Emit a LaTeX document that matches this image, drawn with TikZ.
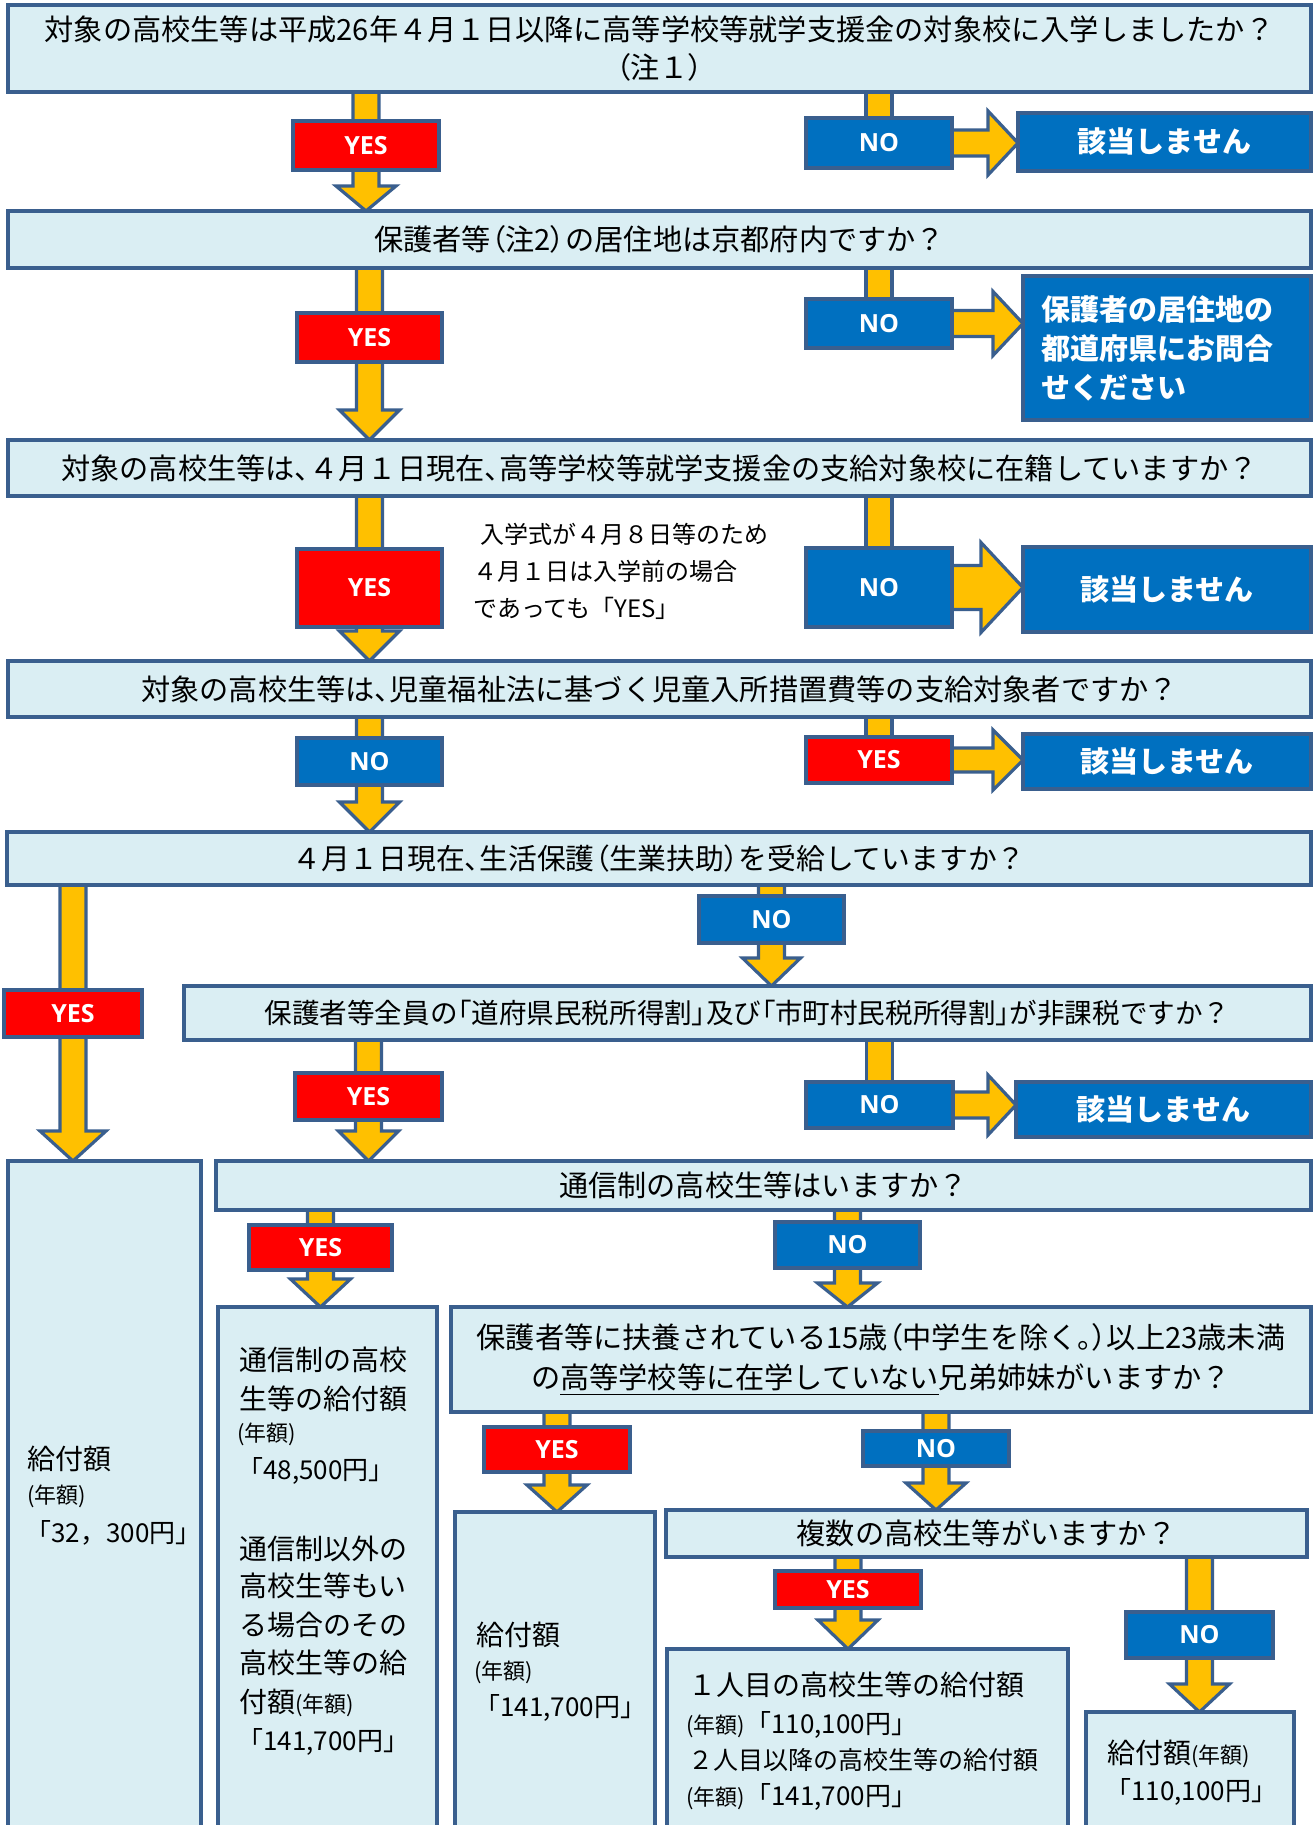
\documentclass[tikz,border=0pt]{standalone}
\usepackage{fontspec}
\setmainfont{Noto Sans CJK JP}
\newfontfamily\jpp{Noto Sans CJK JP}[RawFeature=+palt]
\newfontfamily\ynfont{Open Sans}
\usetikzlibrary{calc}
\pgfdeclarelayer{bg}
\pgfsetlayers{bg,main}
\definecolor{qf}{HTML}{DAEEF3}
\definecolor{bd}{HTML}{3A5F8E}
\definecolor{rd}{HTML}{FF0000}
\definecolor{bl}{HTML}{0070C0}
\definecolor{og}{HTML}{FFC000}
\newcommand\pp[1]{{\jpp#1}}
\newcommand\szq{\fontsize{14.6}{19}\selectfont}
\newcommand\szr{\fontsize{14}{19}\selectfont}
\newcommand\szs{\fontsize{11}{13}\selectfont}
\newcommand\sza{\fontsize{13}{16}\selectfont}
\tikzset{
  qbox/.style={draw=bd, fill=qf, line width=2pt, inner sep=0pt, outer sep=0pt, align=center, font=\szq},
  ybox/.style={draw=bd, fill=rd, line width=2pt, inner sep=0pt, outer sep=0pt, text=white, font=\ynfont\bfseries\fontsize{12.5}{14}\selectfont},
  nbox/.style={ybox, fill=bl},
  tbox/.style={draw=bd, fill=bl, line width=2pt, inner sep=0pt, outer sep=0pt, text=white, font=\bfseries\fontsize{14.5}{19.5}\selectfont},
  arr/.style={draw=bd, fill=og, line width=1.6pt, line join=miter},
  rtext/.style={anchor=west, inner sep=0pt, font=\szr},
  note/.style={anchor=west, inner sep=0pt, align=left, font=\fontsize{12}{18.5}\selectfont},
}
\newcommand\mkbox[7]{%
  \pgfmathsetmacro\bxw{(#5-#3)*0.5}%
  \pgfmathsetmacro\bxh{(#6-#4)*0.5}%
  \node[#2, minimum width=\bxw pt, minimum height=\bxh pt] (#1) at ({(#3+#5)/2},{(#4+#6)/2}) {#7};%
}
% down block arrow: from, to, via-label, head length, head half width
\newcommand\darrow[5]{%
  \coordinate (aT) at (#1.south -| #3.center);
  \coordinate (aB) at (#2.north -| #3.center);
  \filldraw[arr] ($(aT)+(-13,-4)$) -- ($(aB)+(-13,-#4)$) -- ($(aB)+(-#5,-#4)$) -- (aB)
     -- ($(aB)+(#5,-#4)$) -- ($(aB)+(13,-#4)$) -- ($(aT)+(13,-4)$) -- cycle;
}
% vertical stub from question box to label
\newcommand\stub[2]{%
  \filldraw[arr] ($(#1.south -| #2.center)+(-13,-4)$) rectangle ($(#2.center)+(13,0)$);
}
% right block arrow: from label, to target, shaft half, head length, head half
\newcommand\rarrow[5]{%
  \coordinate (aL) at ($(#1.east)+(-4,0)$);
  \coordinate (aR) at (#2.west |- #1.east);
  \filldraw[arr] ($(aL)+(0,-#3)$) -- ($(aR)+(-#4,-#3)$) -- ($(aR)+(-#4,-#5)$) -- (aR)
     -- ($(aR)+(-#4,#5)$) -- ($(aR)+(-#4,#3)$) -- ($(aL)+(0,#3)$) -- cycle;
}
\begin{document}
\begin{tikzpicture}[x=0.5pt,y=-0.5pt]
\useasboundingbox (0,0) rectangle (1313,1825);
\clip (0,0) rectangle (1313,1825);
\begin{pgfonlayer}{bg}
\fill[white] (0,0) rectangle (1313,1825);
\end{pgfonlayer}

% question boxes
\mkbox{q1}{qbox}{8}{5}{1311}{92}{対象の高校生等は平成26年４月１日以降に高等学校等就学支援金の対象校に入学しましたか？\\\pp{（}注１\pp{）}}
\mkbox{q2}{qbox}{8}{211}{1311}{268}{保護者等\pp{（}注2\pp{）}の居住地は京都府内ですか？}
\mkbox{q3}{qbox}{8}{440}{1311}{496}{対象の高校生等は\pp{、}４月１日現在\pp{、}高等学校等就学支援金の支給対象校に在籍していますか？}
\mkbox{q4}{qbox}{8}{661}{1311}{717}{対象の高校生等は\pp{、}児童福祉法に基づく児童入所措置費等の支給対象者ですか？}
\mkbox{q5}{qbox,font=\fontsize{14.4}{19}\selectfont}{7}{832}{1311}{885}{４月１日現在\pp{、}生活保護\pp{（}生業扶助\pp{）}を受給していますか？}
\mkbox{q6}{qbox,font=\fontsize{13.8}{19}\selectfont}{184}{986}{1311}{1040}{保護者等全員の\pp{「}道府県民税所得割\pp{」}及び\pp{「}市町村民税所得割\pp{」}が非課税ですか？}
\mkbox{q7}{qbox}{216}{1161}{1311}{1210}{通信制の高校生等はいますか？}
\mkbox{q8}{qbox,font=\fontsize{14.6}{20}\selectfont}{451}{1307}{1311}{1412}{保護者等に扶養されている15歳\pp{（}中学生を除く\pp{。）}以上23歳未満\\の\underline{高等学校等に在学していない}兄弟姉妹がいますか？}
\mkbox{q9}{qbox}{666}{1510}{1307}{1557}{複数の高校生等がいますか？}

% target boxes
\mkbox{t1}{tbox}{1018}{113}{1311}{171}{該当しません}
\mkbox{t2}{tbox}{1023}{276}{1311}{420}{}
\node[tbox, draw=none, fill=none, anchor=west, align=left] (t2t) at (1041,348) {保護者の居住地の\\都道府県にお問合\\せください};
\mkbox{t3}{tbox}{1023}{547}{1311}{632}{該当しません}
\mkbox{t4}{tbox}{1023}{734}{1311}{789}{該当しません}
\mkbox{t6}{tbox}{1016}{1082}{1311}{1137}{該当しません}

% result boxes
\mkbox{r1}{qbox}{8}{1161}{201}{1900}{}
\mkbox{r2}{qbox}{218}{1307}{437}{1900}{}
\mkbox{r3}{qbox}{455}{1512}{655}{1900}{}
\mkbox{r4}{qbox}{667}{1649}{1068}{1900}{}
\mkbox{r5}{qbox}{1086}{1712}{1294}{1900}{}

% labels
\mkbox{y1}{ybox}{293}{121}{439}{170}{YES}
\mkbox{n1}{nbox}{806}{118}{952}{168}{NO}
\mkbox{y2}{ybox}{297}{313}{442}{362}{YES}
\mkbox{n2}{nbox}{806}{299}{952}{348}{NO}
\mkbox{y3}{ybox}{297}{549}{442}{627}{YES}
\mkbox{n3}{nbox}{806}{548}{952}{627}{NO}
\mkbox{n4}{nbox}{297}{738}{442}{785}{NO}
\mkbox{y4}{ybox}{806}{737}{952}{783}{YES}
\mkbox{n5}{nbox}{699}{896}{844}{943}{NO}
\mkbox{y5}{ybox}{4}{990}{142}{1037}{YES}
\mkbox{y6}{ybox}{295}{1073}{442}{1120}{YES}
\mkbox{n6}{nbox}{806}{1082}{953}{1128}{NO}
\mkbox{y7}{ybox}{249}{1225}{392}{1270}{YES}
\mkbox{n7}{nbox}{775}{1222}{920}{1268}{NO}
\mkbox{y8}{ybox}{484}{1427}{630}{1472}{YES}
\mkbox{n8}{nbox}{863}{1431}{1009}{1466}{NO}
\mkbox{y9}{ybox}{775}{1571}{921}{1608}{YES}
\mkbox{n9}{nbox}{1126}{1612}{1273}{1658}{NO}

% note
\node[note] (nt) at (473,571) {\hspace{3.5pt}入学式が４月８日等のため\\４月１日は入学前の場合\\であっても「YES」};

% result texts
\node[rtext] (r1a) at (27,1459) {給付額};
\node[rtext,font=\szs] (r1b) at (27,1496) {(年額)};
\node[rtext,font=\sza] (r1c) at (25,1533) {「32，300円」};

\node[rtext] (r2a) at (239,1360) {通信制の高校};
\node[rtext] (r2b) at (239,1399) {生等の給付額};
\node[rtext,font=\szs] (r2c) at (237,1434) {(年額)};
\node[rtext,font=\sza] (r2d) at (237,1471) {「48,500円」};
\node[rtext] (r2e) at (239,1549) {通信制以外の};
\node[rtext] (r2f) at (239,1586) {高校生等もい};
\node[rtext] (r2g) at (239,1625) {る場合のその};
\node[rtext] (r2h) at (239,1663) {高校生等の給};
\node[rtext] (r2i) at (239,1703) {付額{\szs(年額)}};
\node[rtext,font=\sza] (r2j) at (237,1742) {「141,700円」};

\node[rtext] (r3a) at (476,1635) {給付額};
\node[rtext,font=\szs] (r3b) at (474,1672) {(年額)};
\node[rtext,font=\sza] (r3c) at (474,1708) {「141,700円」};

\node[rtext] (r4a) at (688,1685) {１人目の高校生等の給付額};
\node[rtext,font=\sza] (r4b) at (686,1725) {{\szs(年額)}「110,100円」};
\node[rtext,font=\fontsize{12.5}{15}\selectfont] (r4c) at (688,1760) {２人目以降の高校生等の給付額};
\node[rtext,font=\sza] (r4d) at (686,1797) {{\szs(年額)}「141,700円」};

\node[rtext] (r5a) at (1107,1754) {給付額{\szs(年額)}};
\node[rtext,font=\sza] (r5b) at (1105,1792) {「110,100円」};

% connectors on background layer
\begin{pgfonlayer}{bg}
\darrow{q1}{q2}{y1}{25}{30}
\darrow{q2}{q3}{y2}{30}{30}
\darrow{q3}{q4}{y3}{30}{30}
\darrow{q4}{q5}{n4}{30}{30}
\darrow{q5}{r1}{y5}{30}{33}
\darrow{q5}{q6}{n5}{28}{29}
\darrow{q6}{q7}{y6}{30}{30}
\darrow{q7}{r2}{y7}{28}{30}
\darrow{q7}{q8}{n7}{24}{30}
\darrow{q8}{r3}{y8}{27}{30}
\darrow{q8}{q9}{n8}{27}{30}
\darrow{q9}{r4}{y9}{29}{30}
\darrow{q9}{r5}{n9}{28}{30}
\stub{q1}{n1}
\stub{q2}{n2}
\stub{q3}{n3}
\stub{q4}{y4}
\stub{q6}{n6}
\rarrow{n1}{t1}{13}{30}{32}
\rarrow{n2}{t2}{13}{30}{32}
\rarrow{n3}{t3}{22}{42}{45}
\rarrow{y4}{t4}{12}{30}{30}
\rarrow{n6}{t6}{13}{28}{30}
\end{pgfonlayer}
\end{tikzpicture}
\end{document}
